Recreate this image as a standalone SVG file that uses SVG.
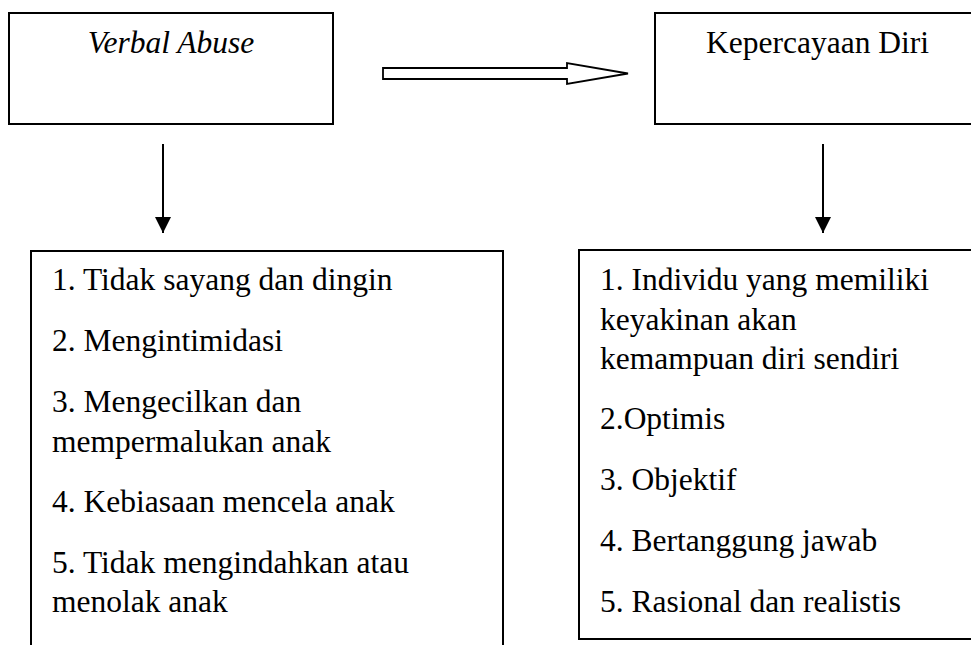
<svg xmlns="http://www.w3.org/2000/svg" width="971" height="645" viewBox="0 0 971 645">
<style>
.box{fill:#fff;stroke:#000;stroke-width:2}
.t{font-family:'Liberation Serif','Times New Roman','DejaVu Serif',serif;font-size:31.5px;fill:#000}
.it{font-style:italic}
.ln{stroke:#000;stroke-width:2;fill:none}
.hollow{fill:#fff;stroke:#000;stroke-width:1.8;stroke-linejoin:miter}
</style>
<defs>
<marker id="ah" viewBox="0 0 10 10" refX="10" refY="5" markerWidth="8" markerHeight="8" markerUnits="strokeWidth" orient="auto">
<path d="M0,0 L10,5 L0,10 Z" fill="#000"/>
</marker>
</defs>
<rect width="971" height="645" fill="#fff"/>
<g id="verbal-abuse">
<rect class="box" x="9" y="13" width="324" height="111"/>
<text class="t it" x="171" y="53" text-anchor="middle" font-family="Liberation Serif, serif">Verbal Abuse</text>
</g>
<g id="kepercayaan-diri">
<rect class="box" x="655" y="13" width="330" height="111"/>
<text class="t" x="706" y="53" font-family="Liberation Serif, serif">Kepercayaan Diri</text>
</g>
<g id="verbal-abuse-list" font-family="Liberation Serif, serif">
<rect class="box" x="31" y="251" width="472" height="410"/>
<text class="t" x="52" y="290">1. Tidak sayang dan dingin</text>
<text class="t" x="52" y="351">2. Mengintimidasi</text>
<text class="t" x="52" y="412">3. Mengecilkan dan</text>
<text class="t" x="52" y="451.5">mempermalukan anak</text>
<text class="t" x="52" y="512">4. Kebiasaan mencela anak</text>
<text class="t" x="52" y="573">5. Tidak mengindahkan atau</text>
<text class="t" x="52" y="612">menolak anak</text>
</g>
<g id="kepercayaan-diri-list" font-family="Liberation Serif, serif">
<rect class="box" x="579" y="250" width="406" height="389"/>
<text class="t" x="600" y="290">1. Individu yang memiliki</text>
<text class="t" x="600" y="329.5">keyakinan akan</text>
<text class="t" x="600" y="369">kemampuan diri sendiri</text>
<text class="t" x="600" y="429">2.Optimis</text>
<text class="t" x="600" y="490">3. Objektif</text>
<text class="t" x="600" y="551">4. Bertanggung jawab</text>
<text class="t" x="600" y="612">5. Rasional dan realistis</text>
</g>
<g id="connectors">
<path class="hollow" d="M383,68 L567,68 L567,63 L628,73.5 L567,84 L567,79 L383,79 Z"/>
<line class="ln" x1="163" y1="144" x2="163" y2="233" marker-end="url(#ah)"/>
<line class="ln" x1="823" y1="144" x2="823" y2="233" marker-end="url(#ah)"/>
</g>
</svg>
